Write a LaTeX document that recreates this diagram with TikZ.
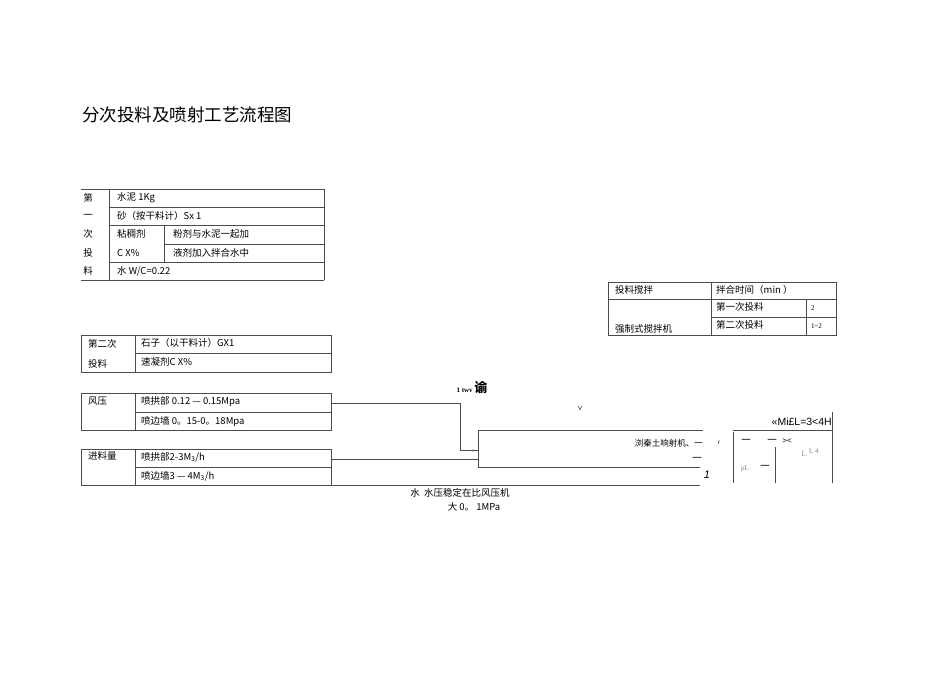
\documentclass[tikz,border=0pt]{standalone}
\usepackage{fontspec}
\setmainfont{Liberation Serif}
\setsansfont{Liberation Sans}
\newfontfamily\cjk{Noto Sans CJK SC}
\begin{document}
\begin{tikzpicture}[x=1pt,y=-1pt,
  ln/.style={draw=black!70,line width=0.6pt},
  t/.style={font=\cjk\fontsize{9.5}{10}\selectfont,anchor=west,inner sep=0pt},
  tc/.style={font=\cjk\fontsize{9.5}{10}\selectfont,inner sep=0pt}]
\useasboundingbox (0,0) rectangle (950,672);
\node[t,font=\cjk\fontsize{17.5}{18}\selectfont] (title) at (82,115) {分次投料及喷射工艺流程图};
% table 1
\draw[ln] (81,189)--(324,189) (81,280)--(324,280) (109,189)--(109,280) (324,189)--(324,280)
  (109,207)--(324,207) (109,225)--(324,225) (164,244)--(324,244) (109,262)--(324,262) (164,225)--(164,262);
\foreach \s/\y [count=\i] in {第/198,一/216,次/234,投/253,料/271} \node[tc] (l\i) at (88,\y) {\s};
\node[t] (a1) at (117,198) {水泥 1Kg};
\node[t] (a2) at (117,216) {砂（按干料计）Sx 1};
\node[t] (a3) at (117,234) {粘稠剂};
\node[t] (a4) at (117,253) {C X\%};
\node[t] (a5) at (173,234) {粉剂与水泥一起加};
\node[t] (a6) at (173,253) {液剂加入拌合水中};
\node[t] (a7) at (117,271) {水 W/C=0.22};
% right table
\draw[ln] (608,282) rectangle (836,335) (608,299)--(836,299) (711,317)--(836,317) (711,282)--(711,335) (806,299)--(806,335);
\node[t] (b1) at (615,290) {投料搅拌};
\node[t] (b2) at (716,290) {拌合时间（min ）};
\node[t] (b3) at (716,307) {第一次投料};
\node[t] (b4) at (716,325) {第二次投料};
\node[t,font=\fontsize{7}{8}\selectfont] (b5) at (811,308) {2};
\node[t,font=\fontsize{7}{8}\selectfont] (b6) at (811,326) {1\textasciitilde2};
\node[t] (b7) at (615,329) {强制式搅拌机};
% table 2
\draw[ln] (81,335) rectangle (331,372) (135,335)--(135,372) (135,353)--(331,353);
\node[t] (c1) at (88,344) {第二次};
\node[t] (c2) at (88,364) {投料};
\node[t] (c3) at (141,343) {石子（以干料计）GX1};
\node[t] (c4) at (141,362) {速凝剂C X\%};
% table 3
\draw[ln] (81,393) rectangle (331,430) (135,393)--(135,430) (135,412)--(331,412);
\node[t] (d1) at (88,401) {风压};
\node[t] (d2) at (141,402) {喷拱部 0.12 — 0.15Mpa};
\node[t] (d3) at (141,422) {喷边墙 0。15-0。18Mpa};
% table 4
\draw[ln] (81,449) rectangle (331,485) (135,449)--(135,485) (135,467)--(331,467);
\node[t] (e1) at (88,456) {进料量};
\node[t] (e2) at (141,457) {喷拱部2-3M\textsubscript{3}/h};
\node[t] (e3) at (141,476) {喷边墙3 — 4M\textsubscript{3}/h};
% connectors
\coordinate (w0) at (331,403); \coordinate (m0) at (478,450);
\draw[ln] (w0) -- (460,403) |- (m0);
\coordinate (f0) at (331,459); \coordinate (f1) at (478,459);
\draw[ln] (f0) -- (f1);
\coordinate (g0) at (331,485); \coordinate (g1) at (700,485);
\draw[ln] (g0) -- (g1);
\coordinate (mA) at (703,430); \coordinate (mB) at (700,467);
\draw[ln] (mA) -- (478,430) -- (478,467) -- (mB);
\node[tc,font=\sffamily\fontsize{4}{5}\selectfont,text=gray] (ip) at (474,451) {IP};
\node[tc,font=\fontsize{5}{6}\selectfont,text=gray] (vv) at (333,461) {/};
\node[tc,font=\sffamily\fontsize{6}{7}\selectfont] (V) at (580,408) {V};
\node[anchor=east,inner sep=0pt,font=\cjk\fontsize{8.5}{9}\selectfont] (mach) at (703,443) {浏秦土响射机、一};
\node[tc,font=\sffamily\fontsize{6}{7}\selectfont] (r) at (719,443) {r};
\node[tc] (dash1) at (697,459) {一};
\node[tc,font=\sffamily\itshape\fontsize{11}{12}\selectfont] (one) at (707,475) {1};
\node[inner sep=0pt] (tw) at (472,387) {\fontsize{7}{8}\selectfont\bfseries 1 twv \cjk\fontsize{13}{14}\selectfont 谕};
% right part
\draw[ln] (832,412)--(832,483) (733,430)--(832,430) (733,432)--(733,483) (775,447)--(775,483);
\node[anchor=east,inner sep=0pt,font=\sffamily\fontsize{10.5}{12}\selectfont] (eq) at (832,422) {«Mi£L=3<4H};
\node[tc] (h1) at (746,441) {一};
\node[tc] (h2) at (772,441) {一};
\node[tc,font=\sffamily\fontsize{8}{9}\selectfont] (h3) at (787,441) {><};
\node[tc,font=\fontsize{7}{8}\selectfont,text=gray] (h4) at (810,453) {Ĺ. \raisebox{3pt}{L 4}};
\node[t,font=\fontsize{7}{8}\selectfont,text=gray] (h5) at (741,469) {pL};
\node[tc] (h6) at (765,467) {一};
% bottom text
\node[tc] (w1) at (460,493) {水\ \ 水压稳定在比风压机};
\node[tc] (w2) at (474,507) {大 0。 1MPa};
\end{tikzpicture}
\end{document}
